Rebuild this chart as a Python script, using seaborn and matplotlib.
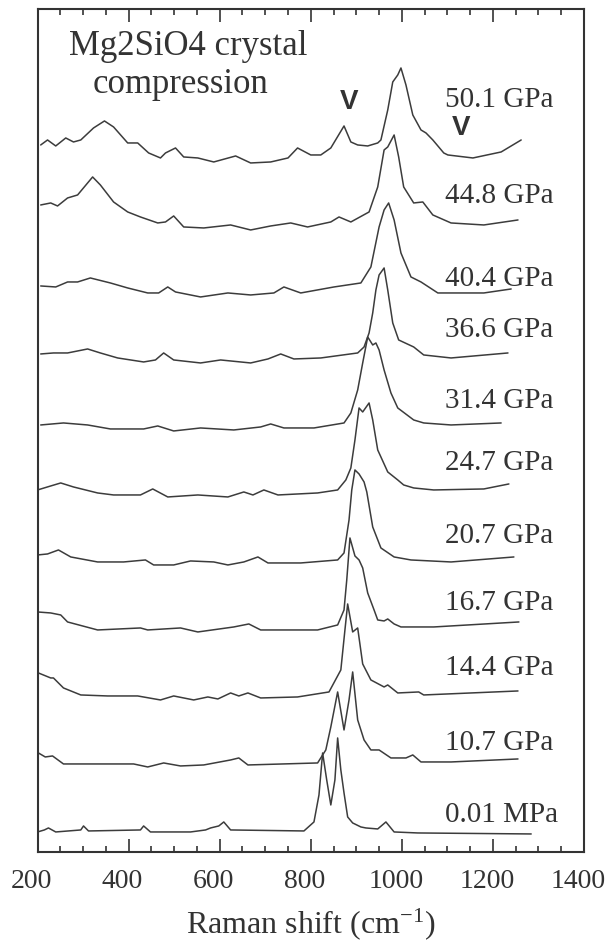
import pandas as pd
import seaborn as sns
import matplotlib.pyplot as plt
from matplotlib.ticker import MultipleLocator
from matplotlib.transforms import ScaledTranslation

sns.set_theme(style="white")
plt.rcParams['font.family'] = ['Liberation Serif', 'DejaVu Serif']
plt.rcParams['mathtext.default'] = 'regular'

# pressure labels, top trace first
pressures = ["50.1 GPa", "44.8 GPa", "40.4 GPa", "36.6 GPa", "31.4 GPa", "24.7 GPa",
             "20.7 GPa", "16.7 GPa", "14.4 GPa", "10.7 GPa", "0.01 MPa"]

# stacked spectra (Raman shift in cm-1, intensity in a.u. incl. offset)
shift_501 = [207, 222, 240, 262, 279, 295, 323, 347, 367, 398, 420, 444, 470, 481, 503, 521, 552,
             587, 635, 668, 712, 750, 771, 800, 822, 844, 873, 888, 903, 925, 947, 954, 969, 980,
             991, 998, 1009, 1024, 1042, 1053, 1068, 1092, 1101, 1156, 1218, 1262]
inten_501 = [707, 712, 706, 714, 710, 712, 724, 731, 725, 709, 709, 699, 694, 699, 704, 695, 694,
             690, 696, 689, 690, 694, 704, 697, 697, 704, 726, 710, 707, 706, 709, 712, 742, 770,
             777, 784, 767, 737, 722, 719, 712, 699, 697, 694, 700, 712]

shift_448 = [207, 229, 244, 266, 288, 321, 338, 367, 398, 426, 464, 481, 499, 521, 565, 624, 668,
             712, 756, 793, 844, 862, 888, 928, 947, 961, 969, 983, 993, 1004, 1026, 1046, 1068,
             1108, 1180, 1255]
inten_448 = [647, 649, 646, 654, 657, 675, 667, 650, 640, 635, 629, 630, 636, 625, 624, 627, 622,
             626, 629, 625, 630, 635, 630, 640, 665, 702, 705, 717, 695, 665, 649, 650, 637,
             629, 627, 632]

shift_404 = [207, 240, 266, 288, 316, 360, 398, 442, 466, 486, 503, 558, 618, 668, 719, 741, 778,
             851, 910, 932, 950, 961, 971, 983, 998, 1020, 1042, 1079, 1180, 1240]
inten_404 = [566, 565, 570, 570, 574, 569, 564, 559, 559, 565, 560, 555, 559, 557, 559, 565, 559,
             565, 569, 585, 625, 642, 649, 632, 599, 575, 570, 559, 559, 563]

shift_366 = [207, 235, 266, 310, 338, 376, 433, 459, 477, 499, 558, 602, 668, 706, 734, 763, 822,
             903, 917, 928, 936, 943, 950, 961, 969, 980, 993, 1026, 1048, 1108, 1233]
inten_366 = [498, 499, 499, 503, 499, 494, 490, 492, 499, 492, 489, 492, 489, 493, 498, 493, 494,
             499, 505, 519, 539, 562, 577, 584, 562, 529, 512, 505, 497, 494, 499]

shift_314 = [207, 257, 310, 360, 433, 464, 499, 558, 631, 690, 712, 741, 807, 873, 888, 903, 914,
             925, 936, 943, 950, 961, 976, 991, 1026, 1048, 1108, 1218]
inten_314 = [427, 429, 427, 423, 423, 426, 421, 424, 422, 425, 428, 424, 424, 429, 439, 462, 489,
             515, 507, 509, 502, 482, 459, 444, 432, 429, 427, 429]

shift_247 = [200, 229, 251, 279, 332, 367, 426, 453, 486, 552, 618, 653, 673, 697, 728, 815, 859,
             877, 888, 897, 906, 914, 928, 936, 947, 969, 991, 1004, 1026, 1070, 1180, 1235]
inten_247 = [362, 366, 369, 365, 359, 357, 357, 363, 355, 357, 355, 360, 357, 362, 357, 359, 362,
             372, 384, 412, 444, 440, 449, 432, 402, 380, 372, 367, 364, 362, 363, 368]

shift_207 = [200, 222, 246, 273, 332, 389, 437, 455, 499, 536, 587, 618, 653, 684, 706, 778, 859,
             873, 884, 890, 897, 906, 917, 923, 936, 954, 983, 1020, 1108, 1246]
inten_207 = [297, 298, 302, 295, 290, 290, 292, 287, 287, 291, 290, 287, 290, 295, 289, 289, 292,
             299, 332, 362, 382, 378, 370, 360, 325, 304, 295, 292, 290, 295]

shift_167 = [200, 229, 251, 266, 332, 426, 442, 514, 552, 631, 664, 690, 815, 859, 873, 879, 886,
             897, 906, 914, 925, 939, 947, 961, 969, 983, 998, 1070, 1257]
inten_167 = [240, 239, 237, 230, 222, 224, 222, 224, 220, 225, 228, 222, 222, 227, 242, 272, 314,
             296, 292, 284, 259, 242, 232, 231, 233, 228, 225, 225, 230]

shift_144 = [202, 229, 235, 257, 295, 354, 420, 470, 499, 543, 574, 596, 624, 642, 662, 690, 771,
             840, 866, 875, 881, 892, 903, 914, 932, 961, 969, 991, 1037, 1048, 1255]
inten_144 = [179, 174, 174, 164, 157, 156, 156, 152, 156, 152, 155, 153, 159, 156, 159, 154, 155,
             160, 182, 222, 248, 220, 224, 188, 172, 165, 167, 159, 160, 157, 161]

shift_107 = [202, 217, 233, 257, 367, 411, 442, 477, 514, 565, 624, 642, 662, 815, 833, 844, 859,
             873, 884, 892, 903, 917, 932, 950, 976, 1009, 1024, 1042, 1108, 1255]
inten_107 = [99, 95, 96, 88, 88, 88, 85, 89, 86, 87, 92, 94, 87, 89, 102, 125, 160,
             122, 152, 180, 132, 112, 102, 102, 94, 94, 97, 90, 90, 93]

shift_0 = [200, 215, 224, 240, 295, 301, 312, 426, 433, 448, 536, 569, 580, 598, 609, 624, 785,
           807, 818, 826, 835, 844, 853, 859, 866, 873, 881, 892, 910, 921, 947, 965, 983, 1035, 1284]
inten_0 = [20, 22, 24, 20, 22, 26, 21, 22, 26, 20, 20, 22, 24, 26, 30, 22, 21,
           30, 57, 99, 72, 47, 72, 114, 82, 59, 35, 29, 25, 24, 23, 30, 20, 19, 18]

spectra = [(shift_501, inten_501), (shift_448, inten_448), (shift_404, inten_404),
           (shift_366, inten_366), (shift_314, inten_314), (shift_247, inten_247),
           (shift_207, inten_207), (shift_167, inten_167), (shift_144, inten_144),
           (shift_107, inten_107), (shift_0, inten_0)]

# label baselines next to each trace
label_y = [745, 649, 566, 515, 444, 382, 309, 242, 177, 102, 30]

rows = []
for p, (xs, ys) in zip(pressures, spectra):
    for xv, yv in zip(xs, ys):
        rows.append((p, xv, yv))
df = pd.DataFrame(rows, columns=["pressure", "shift", "intensity"])

fig = plt.figure(figsize=(6.12, 9.44), dpi=100)
ax = fig.add_axes([0.0613, 0.0975, 0.893, 0.893])

sns.lineplot(data=df, x="shift", y="intensity", hue="pressure", estimator=None, sort=False,
             palette=["#3c3c3c"] * len(pressures), lw=1.1, legend=False, ax=ax)

for p, ly in zip(pressures, label_y):
    ax.text(1095, ly, p, fontsize=21, color="#333333", ha="left", va="baseline")

# marker "V" over the extra bands
ax.text(884, 750, "V", fontsize=20, fontweight="bold", family="Liberation Sans",
        color="#333333", ha="center", va="center")
ax.text(1130, 724, "V", fontsize=20, fontweight="bold", family="Liberation Sans",
        color="#333333", ha="center", va="center")

ax.text(530, 797, "Mg2SiO4 crystal", fontsize=25, color="#333333", ha="center", va="baseline")
ax.text(514, 759, "compression", fontsize=25, color="#333333", ha="center", va="baseline")

ax.set_xlim(200, 1400)
ax.set_ylim(0, 843)
ax.xaxis.set_major_locator(MultipleLocator(200))
ax.xaxis.set_minor_locator(MultipleLocator(50))
ax.set_yticks([])
ax.tick_params(axis="x", which="both", direction="in", top=True, bottom=True,
               color="#333333", width=1.2)
ax.tick_params(axis="x", which="major", length=9.5, labelsize=20, pad=12, labelcolor="#333333")
ax.tick_params(axis="x", which="minor", length=4)
for s in ax.spines.values():
    s.set_linewidth(1.5)
    s.set_color("#333333")

# the printed tick numbers sit a little left of their ticks
shift_left = ScaledTranslation(-6 / 100, 0, fig.dpi_scale_trans)
for lab in ax.get_xticklabels():
    lab.set_transform(lab.get_transform() + shift_left)

ax.set_xlabel("Raman shift (cm$^{-1}$)", fontsize=23, color="#333333", labelpad=9)
ax.set_ylabel("")

fig.savefig("out.png", dpi=100)
